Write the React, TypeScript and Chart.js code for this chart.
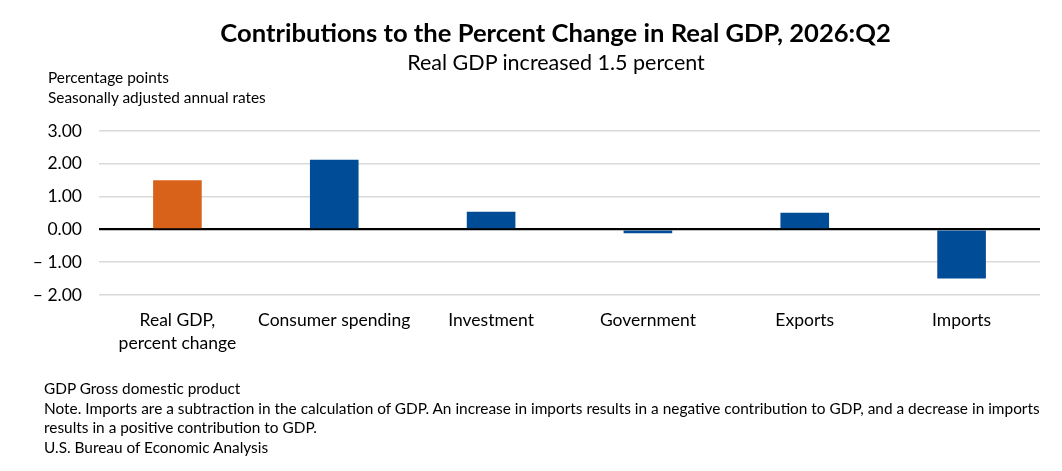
import React, { useEffect, useRef } from "react";
import Chart from "chart.js/auto";

const categories: (string | string[])[] = [
  ["Real GDP,", "percent change"],
  "Consumer spending",
  "Investment",
  "Government",
  "Exports",
  "Imports",
];
const contributions = [1.5, 2.12, 0.54, -0.12, 0.51, -1.5];
const yTicks = [-2, -1, 0, 1, 2, 3];

const title = "Contributions to the Percent Change in Real GDP, 2026:Q2";
const subtitle = "Real GDP increased 1.5 percent";
const unitLines = ["Percentage points", "Seasonally adjusted annual rates"];
const notes = [
  "GDP Gross domestic product",
  "Note. Imports are a subtraction in the calculation of GDP. An increase in imports results in a negative contribution to GDP, and a decrease in imports",
  "results in a positive contribution to GDP.",
  "U.S. Bureau of Economic Analysis",
];

const FONT = "Lato, 'Open Sans', sans-serif";
const ORANGE = "#d9621b";
const BLUE = "#004c97";

const fmtTick = (v: number) =>
  v < 0 ? "\u2013 " + Math.abs(v).toFixed(2) : v.toFixed(2);

const GdpChart: React.FC = () => {
  const chartRef = useRef<HTMLCanvasElement>(null);

  useEffect(() => {
    if (!chartRef.current) return;
    const chart = new Chart(chartRef.current, {
      type: "bar",
      data: {
        labels: categories,
        datasets: [
          {
            data: contributions,
            backgroundColor: contributions.map((_, i) => (i === 0 ? ORANGE : BLUE)),
            borderWidth: 0,
            categoryPercentage: 1,
            barPercentage: 0.31,
          },
        ],
      },
      options: {
        animation: false,
        responsive: false,
        layout: { padding: { top: 123, right: 14, left: 0, bottom: 0 } },
        plugins: {
          legend: { display: false },
          title: { display: false },
          tooltip: { enabled: false },
        },
        scales: {
          x: {
            grid: { display: false, drawTicks: false },
            border: { display: false },
            ticks: {
              color: "#000",
              font: { family: FONT, size: 17.5, lineHeight: 1.32 },
              padding: 14,
              maxRotation: 0,
              autoSkip: false,
            },
            afterFit: (s: any) => {
              s.height = 168;
            },
          },
          y: {
            min: Math.min(...yTicks),
            max: Math.max(...yTicks),
            afterBuildTicks: (s: any) => {
              s.ticks = yTicks.map((v) => ({ value: v }));
            },
            grid: {
              drawTicks: false,
              color: (ctx: any) => (ctx.tick && ctx.tick.value === 0 ? "#000" : "#d9d9d9"),
              lineWidth: (ctx: any) => (ctx.tick && ctx.tick.value === 0 ? 2.2 : 1.5),
            },
            border: { display: false },
            ticks: {
              color: "#000",
              font: { family: FONT, size: 17.5 },
              padding: 17,
              callback: (v: any) => fmtTick(Number(v)),
            },
            afterFit: (s: any) => {
              s.width = 91;
            },
          },
        },
      },
    });
    return () => {
      chart.destroy();
    };
  }, []);

  return <canvas ref={chartRef} width={1046} height={455} style={{ display: "block" }} />;
};

export default function App() {
  const text: React.CSSProperties = {
    position: "absolute",
    fontFamily: FONT,
    color: "#000",
    whiteSpace: "nowrap",
    margin: 0,
  };
  return (
    <div style={{ position: "relative", width: 1046, height: 455, background: "#fff" }}>
      <GdpChart />
      <div
        style={{
          ...text,
          left: 0,
          width: 1095,
          top: 9,
          textAlign: "center",
          fontWeight: 700,
          fontSize: 25.6,
          lineHeight: "30px",
        }}
      >
        {title}
      </div>
      <div
        style={{
          ...text,
          left: 0,
          width: 1096,
          top: 39,
          textAlign: "center",
          fontSize: 21.5,
          lineHeight: "30px",
        }}
      >
        {subtitle}
      </div>
      {unitLines.map((t, i) => (
        <div key={t} style={{ ...text, left: 40, top: 59 + i * 20, fontSize: 15.4, lineHeight: "20px" }}>
          {t}
        </div>
      ))}
      {notes.map((t, i) => (
        <div key={i} style={{ ...text, left: 36, top: 370 + i * 19.7, fontSize: 15.4, lineHeight: "20px" }}>
          {t}
        </div>
      ))}
    </div>
  );
}
